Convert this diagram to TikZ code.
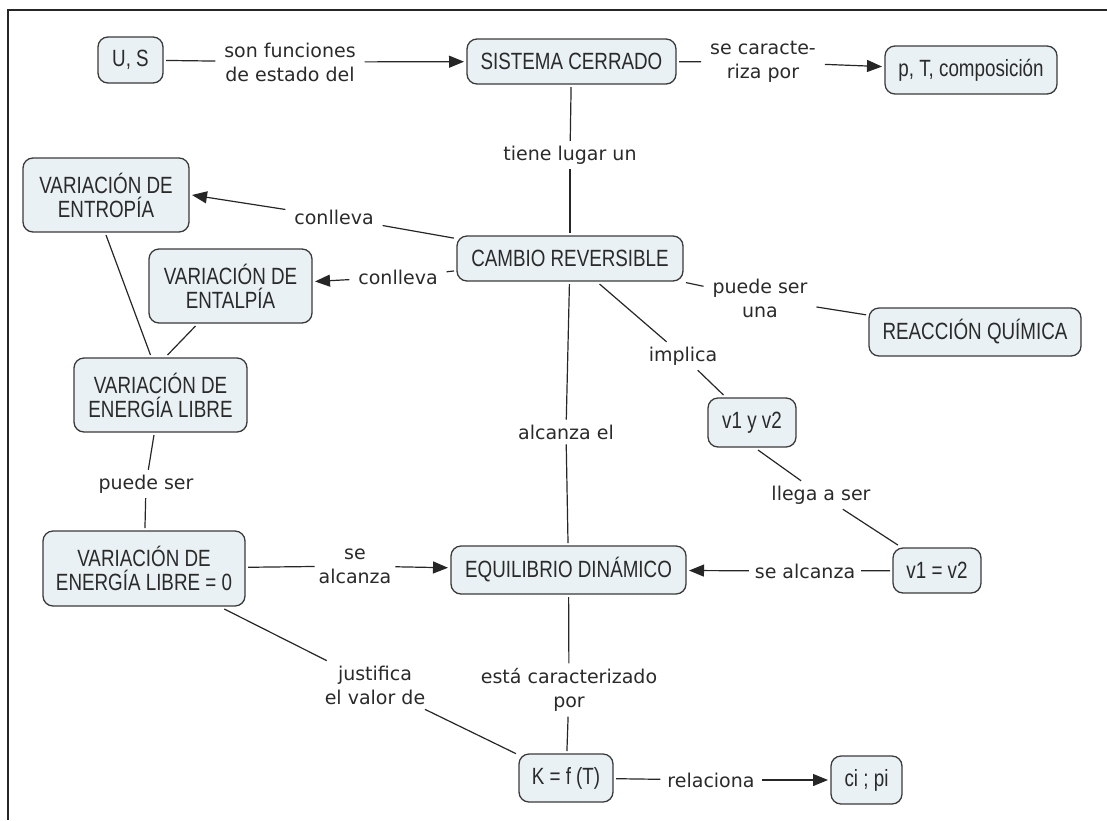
\documentclass[tikz,border=0pt]{standalone}
\usepackage{fontspec}
\setmainfont{DejaVu Sans}
\newfontfamily\boxfont[FakeStretch=0.8]{Liberation Sans}
\usetikzlibrary{arrows.meta}
\definecolor{boxfill}{HTML}{E9F1F4}
\definecolor{boxline}{HTML}{3A3A3A}
\definecolor{txt}{HTML}{2A2A2A}
\tikzset{
  concept/.style={draw=boxline, line width=1.3pt, fill=boxfill, rounded corners=10pt,
    align=center, font=\boxfont\fontsize{23.5}{24}\selectfont, text=txt,
    inner sep=0pt, outer sep=3pt},
  phrase/.style={align=center, font=\fontsize{19}{24}\selectfont, text=txt,
    inner xsep=8pt, inner ysep=4pt, outer sep=1pt},
  link/.style={draw=black!85, line width=1.2pt},
  arr/.style={link, -{Triangle[length=15pt,width=12pt]}},
}
\begin{document}
\begin{tikzpicture}[x=1pt,y=-1pt]
\useasboundingbox (0,0) rectangle (1107,820);
\draw[line width=1.6pt, black!85] (1107,10) -- (8,10) -- (8,820);

% concepts
\node[concept, minimum width=65, minimum height=46] (us) at (130.5,60) {U, S};
\node[concept, minimum width=209, minimum height=45] (sc) at (571.5,61.5) {SISTEMA CERRADO};
\node[concept, minimum width=172, minimum height=48] (ptc) at (971,70) {p, T, composición};
\node[concept, minimum width=166, minimum height=74] (ent) at (106,195) {VARIACIÓN DE\\ENTROPÍA};
\node[concept, minimum width=163, minimum height=74] (ental) at (230.5,286) {VARIACIÓN DE\\ENTALPÍA};
\node[concept, minimum width=173, minimum height=74] (elib) at (160.5,395) {VARIACIÓN DE\\ENERGÍA LIBRE};
\node[concept, minimum width=226, minimum height=45] (cr) at (570,258.5) {CAMBIO REVERSIBLE};
\node[concept, minimum width=212, minimum height=48] (rq) at (975,332) {REACCIÓN QUÍMICA};
\node[concept, minimum width=88, minimum height=49] (v12) at (752,422.5) {v1 y v2};
\node[concept, minimum width=88, minimum height=45] (veq) at (937,570.5) {v1 = v2};
\node[concept, minimum width=202, minimum height=75] (e0) at (144,568.5) {VARIACIÓN DE\\ENERGÍA LIBRE = 0};
\node[concept, minimum width=235, minimum height=48] (eq) at (568.5,570) {EQUILIBRIO DINÁMICO};
\node[concept, minimum width=94, minimum height=48] (k) at (566,778) {K = f (T)};
\node[concept, minimum width=71, minimum height=48] (cp) at (866.5,780) {ci ; pi};

% linking phrases
\node[phrase] (l1) at (290,62) {son funciones\\de estado del};
\node[phrase] (l2) at (763,62) {se caracte-\\riza por};
\node[phrase] (l3) at (570,155) {tiene lugar un};
\node[phrase] (l4) at (334,217) {conlleva};
\node[phrase] (l5) at (398,277) {conlleva};
\node[phrase] (l6) at (760,298) {puede ser\\una};
\node[phrase] (l7) at (683,356) {implica};
\node[phrase] (l8) at (566,432) {alcanza el};
\node[phrase] (l9) at (821,495) {llega a ser};
\node[phrase] (l10) at (146,484) {puede ser};
\node[phrase, inner xsep=3pt] (l11) at (355,566) {se\\alcanza};
\node[phrase, inner xsep=5pt] (l12) at (805,571) {se alcanza};
\node[phrase] (l13) at (375,685) {justifica\\el valor de};
\node[phrase] (l14) at (569,690) {está caracterizado\\por};
\node[phrase, inner xsep=6pt] (l15) at (711,780) {relaciona};

% connectors
\draw[link] (us) -- (l1);
\draw[arr] (l1) -- (sc);
\draw[link] (sc) -- (l2);
\draw[arr] (l2) -- (ptc);
\draw[link] (sc) -- (l3);
\draw[link] (l3) -- (cr);
\draw[link] (cr) -- (l4);
\draw[arr] (l4) -- (ent.east);
\draw[link] (cr) -- (l5);
\draw[arr] (l5) -- (ental);
\draw[link] (cr) -- (l6);
\draw[link] (l6) -- (rq);
\draw[link] (cr) -- (l7);
\draw[link] (l7) -- (v12);
\draw[link] (cr) -- (l8);
\draw[link] (l8) -- (eq);
\draw[link] ([xshift=6pt]v12.south) -- (l9);
\draw[link] (l9) -- (veq);
\draw[link] (veq) -- (l12);
\draw[arr] (l12) -- (eq);
\draw[link] (ent.south) -- ([xshift=-10pt]elib.north);
\draw[link] ([xshift=-35pt]ental.south) -- ([xshift=7pt]elib.north);
\draw[link] (elib) -- (l10);
\draw[link] (l10) -- (e0);
\draw[link] (e0) -- (l11);
\draw[arr] (l11) -- (eq);
\draw[link] (e0) -- (l13);
\draw[link] (l13) -- (k);
\draw[link] (eq) -- (l14);
\draw[link] (l14) -- (k);
\draw[link] (k) -- (l15);
\draw[arr] (l15) -- (cp);
\end{tikzpicture}
\end{document}
